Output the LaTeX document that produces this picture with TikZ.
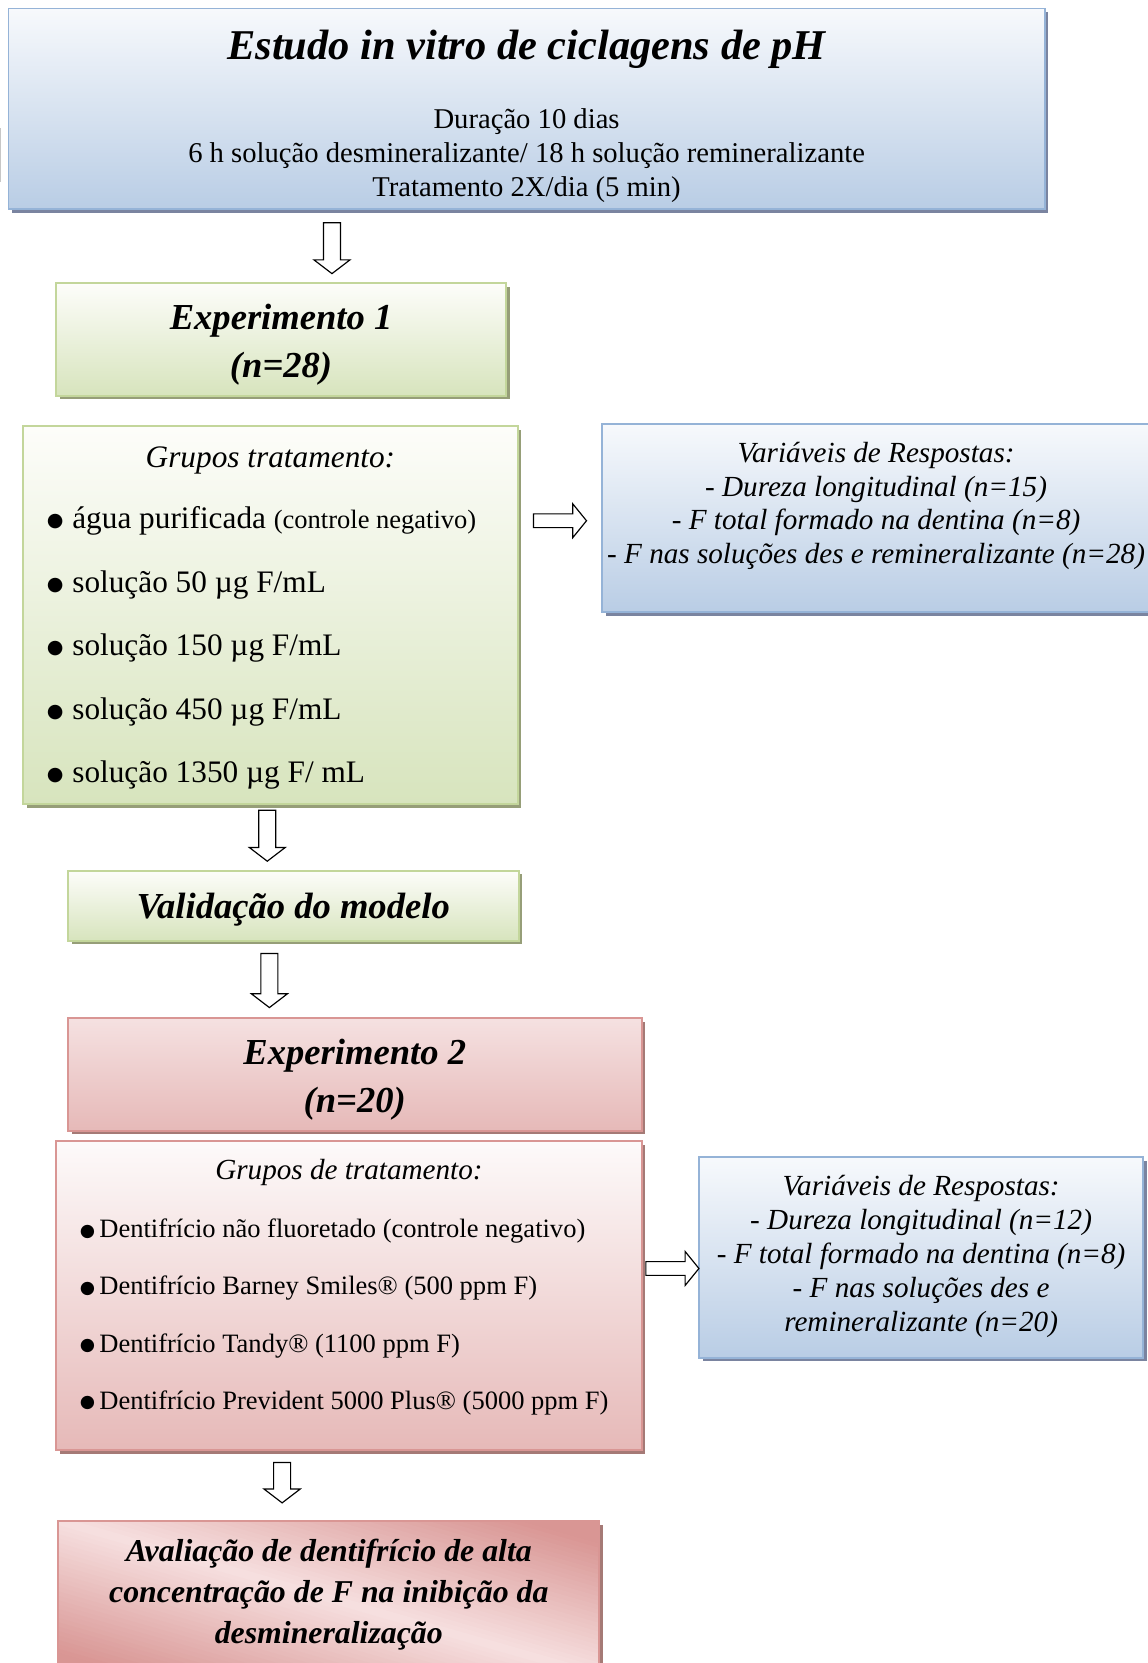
\documentclass[tikz,border=0pt]{standalone}
\usepackage{fontspec}
\setmainfont{Liberation Serif}
\newfontfamily\dvs{DejaVu Sans}
\usetikzlibrary{calc,shadows}
\definecolor{bluebord}{RGB}{149,179,215}
\definecolor{bluebot}{RGB}{185,205,229}
\definecolor{bluetop}{RGB}{247,249,252}
\definecolor{blueshad}{RGB}{122,132,160}
\definecolor{greenbord}{RGB}{195,214,155}
\definecolor{greenbot}{RGB}{215,228,189}
\definecolor{greentop}{RGB}{253,253,250}
\definecolor{greenshad}{RGB}{150,158,120}
\definecolor{redbord}{RGB}{217,150,148}
\definecolor{redbot}{RGB}{230,185,184}
\definecolor{redtop}{RGB}{253,250,250}
\definecolor{redmid}{RGB}{245,225,225}
\definecolor{redlight}{RGB}{246,224,224}
\definecolor{reddark}{RGB}{217,150,148}
\definecolor{redshad}{RGB}{165,122,118}
\newcommand\myfs[1]{\fontsize{#1}{#1}\selectfont}
\newcommand\gbul{\makebox[24pt][l]{\raisebox{2pt}{\dvs\myfs{18}●}}}
\newcommand\rbul{\makebox[18.5pt][l]{\raisebox{1.5pt}{\dvs\myfs{16.5}●}}}
\tikzset{
  box/.style={inner sep=0pt, outer sep=0pt, line width=1.8pt},
  bluebox/.style={box, draw=bluebord, top color=bluetop, bottom color=bluebot,
    general shadow={shadow xshift=3.5pt, shadow yshift=-3.5pt, fill=blueshad}},
  greenbox/.style={box, draw=greenbord, top color=greentop, bottom color=greenbot,
    general shadow={shadow xshift=3.5pt, shadow yshift=-3.5pt, fill=greenshad}},
  redbox/.style={box, draw=redbord, top color=#1, bottom color=redbot,
    general shadow={shadow xshift=3.5pt, shadow yshift=-3.5pt, fill=redshad}},
  shinebox/.style={box, draw=redbord, fill=reddark,
    general shadow={shadow xshift=3.5pt, shadow yshift=-3.5pt, fill=redshad},
    path picture={
      \foreach \t in {-168,-164,...,164}{
        \pgfmathsetmacro\m{min(100,abs(\t+2)/1.2)}
        \fill[reddark!\m!redlight, shift={(path picture bounding box.center)}]
          ({\t*-0.275-384},{\t*0.961-110}) -- ({\t*-0.275+384},{\t*0.961+110})
          -- ({(\t+4.6)*-0.275+384},{(\t+4.6)*0.961+110})
          -- ({(\t+4.6)*-0.275-384},{(\t+4.6)*0.961-110}) -- cycle;
      }}},
  tx/.style={inner sep=0pt, anchor=base},
  bl/.style={inner sep=0pt, anchor=base west},
  blockarrow/.style 2 args={draw=black, line width=1.1pt, fill=white, line join=miter,
    to path={
      ($(\tikztostart)!#1!90:(\tikztotarget)$)
      -- ($ ($(\tikztotarget)!13pt!(\tikztostart)$) !#1!90:(\tikztotarget) $)
      -- ($ ($(\tikztotarget)!13pt!(\tikztostart)$) !#2!90:(\tikztotarget) $)
      -- (\tikztotarget)
      -- ($ ($(\tikztotarget)!13pt!(\tikztostart)$) !#2!-90:(\tikztotarget) $)
      -- ($ ($(\tikztotarget)!13pt!(\tikztostart)$) !#1!-90:(\tikztotarget) $)
      -- ($(\tikztostart)!#1!-90:(\tikztotarget)$)
      -- cycle}},
  downarrow/.style={blockarrow={8pt}{17pt}},
  rightarrow/.style={blockarrow={6.5pt}{16pt}}
}
\begin{document}
\begin{tikzpicture}[x=1pt, y=-1pt]
\useasboundingbox (0,0) rectangle (1082,1568);
\draw[black!22, line width=1pt] (0.5,121) -- (0.5,172);

% boxes
\node[bluebox, minimum width=977pt, minimum height=189pt] (top) at (496.5,102.5) {};
\node[greenbox, minimum width=424pt, minimum height=106pt] (exp1) at (265,320) {};
\node[greenbox, minimum width=466pt, minimum height=356pt] (grp1) at (255,580) {};
\node[bluebox, minimum width=516pt, minimum height=177pt] (var1) at (826,488.5) {};
\node[greenbox, minimum width=425pt, minimum height=66pt] (val) at (276.5,854) {};
\node[redbox=redmid, minimum width=541pt, minimum height=106pt] (exp2) at (334.5,1013) {};
\node[redbox=redtop, minimum width=552pt, minimum height=291pt] (grp2) at (329,1221.5) {};
\node[bluebox, minimum width=419pt, minimum height=189pt] (var2) at (868.5,1185.5) {};
\node[shinebox, minimum width=510pt, minimum height=146pt] (aval) at (310,1507) {};

% top texts
\node[tx, font={\myfs{40}\bfseries\itshape}] (t0) at (496.5,56.5) {Estudo in vitro de ciclagens de pH};
\node[tx, font=\myfs{27}] (t1) at (496.5,121) {Duração 10 dias};
\node[tx, font=\myfs{27}] (t2) at (496.5,153) {6 h solução desmineralizante/ 18 h solução remineralizante};
\node[tx, font=\myfs{27}] (t3) at (496.5,185) {Tratamento 2X/dia (5 min)};

% experimento 1
\node[tx, font={\myfs{34.5}\bfseries\itshape}] (e1a) at (265,311) {Experimento 1};
\node[tx, font={\myfs{34.5}\bfseries\itshape}] (e1b) at (265,356) {(n=28)};

% grupos 1
\node[tx, font={\myfs{29.5}\itshape}] (g1h) at (255,441) {Grupos tratamento:};
\node[bl, font=\myfs{29.5}] (g1a) at (44,498) {\gbul água purificada {\myfs{25}(controle negativo)}};
\node[bl, font=\myfs{29.5}] (g1b) at (44,558.5) {\gbul solução 50 µg F/mL};
\node[bl, font=\myfs{29.5}] (g1c) at (44,618.5) {\gbul solução 150 µg F/mL};
\node[bl, font=\myfs{29.5}] (g1d) at (44,678.5) {\gbul solução 450 µg F/mL};
\node[bl, font=\myfs{29.5}] (g1e) at (44,738) {\gbul solução 1350 µg F/ mL};

% variaveis 1
\node[tx, font={\myfs{27.5}\itshape}] (v1a) at (826,436.5) {Variáveis de Respostas:};
\node[tx, font={\myfs{27.5}\itshape}] (v1b) at (826,468) {- Dureza longitudinal (n=15)};
\node[tx, font={\myfs{27.5}\itshape}] (v1c) at (826,499.5) {- F total formado na dentina (n=8)};
\node[tx, font={\myfs{27.5}\itshape}] (v1d) at (826,531) {- F nas soluções des e remineralizante (n=28)};

% validacao
\node[tx, font={\myfs{34.5}\bfseries\itshape}] (vm) at (276.5,866) {Validação do modelo};

% experimento 2
\node[tx, font={\myfs{34.5}\bfseries\itshape}] (e2a) at (334.5,1004) {Experimento 2};
\node[tx, font={\myfs{34.5}\bfseries\itshape}] (e2b) at (334.5,1049) {(n=20)};

% grupos 2
\node[tx, font={\myfs{27.5}\itshape}] (g2h) at (329,1112) {Grupos de tratamento:};
\node[bl, font=\myfs{25}] (g2a) at (75,1167) {\rbul Dentifrício não fluoretado (controle negativo)};
\node[bl, font=\myfs{25}] (g2b) at (75,1221) {\rbul Dentifrício Barney Smiles® (500 ppm F)};
\node[bl, font=\myfs{25}] (g2c) at (75,1275) {\rbul Dentifrício Tandy® (1100 ppm F)};
\node[bl, font=\myfs{25}] (g2d) at (75,1329) {\rbul Dentifrício Prevident 5000 Plus® (5000 ppm F)};

% variaveis 2
\node[tx, font={\myfs{27.5}\itshape}] (v2a) at (868.5,1127) {Variáveis de Respostas:};
\node[tx, font={\myfs{27.5}\itshape}] (v2b) at (868.5,1159) {- Dureza longitudinal (n=12)};
\node[tx, font={\myfs{27.5}\itshape}] (v2c) at (868.5,1191) {- F total formado na dentina (n=8)};
\node[tx, font={\myfs{27.5}\itshape}] (v2d) at (868.5,1223) {- F nas soluções des e};
\node[tx, font={\myfs{27.5}\itshape}] (v2e) at (868.5,1255) {remineralizante (n=20)};

% avaliacao
\node[tx, font={\myfs{30}\bfseries\itshape}] (av1) at (310,1472) {Avaliação de dentifrício de alta};
\node[tx, font={\myfs{30}\bfseries\itshape}] (av2) at (310,1511) {concentração de F na inibição da};
\node[tx, font={\myfs{30}\bfseries\itshape}] (av3) at (310,1550) {desmineralização};

% arrows
\coordinate (a1s) at (313,210); \coordinate (a1e) at (313,258);
\coordinate (a2s) at (503,491); \coordinate (a2e) at (553,491);
\coordinate (a3s) at (252,764); \coordinate (a3e) at (252,812);
\coordinate (a4s) at (254,899); \coordinate (a4e) at (254,950);
\coordinate (a5s) at (609,1196); \coordinate (a5e) at (659,1196);
\coordinate (a6s) at (266,1379); \coordinate (a6e) at (266,1417);
\draw[downarrow] (a1s) to (a1e);
\draw[rightarrow] (a2s) to (a2e);
\draw[downarrow] (a3s) to (a3e);
\draw[downarrow] (a4s) to (a4e);
\draw[rightarrow] (a5s) to (a5e);
\draw[downarrow] (a6s) to (a6e);
\end{tikzpicture}
\end{document}
